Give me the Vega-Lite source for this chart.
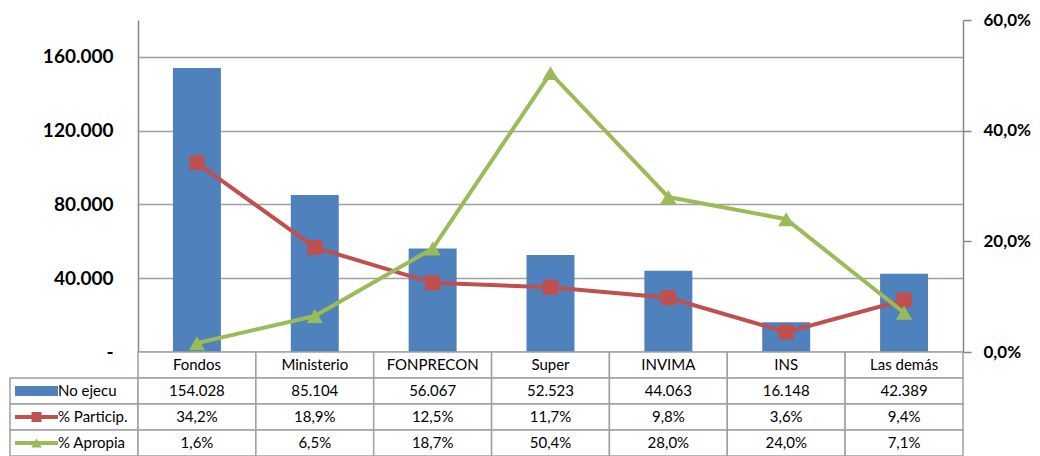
{
  "$schema": "https://vega.github.io/schema/vega-lite/v6.json",
  "padding": {"left": 9, "top": 11, "right": 0, "bottom": 0},
  "columns": 2,
  "spacing": 0,
  "bounds": "flush",
  "datasets": {
    "d": [
      {"cat": "Fondos", "ejec": 154028, "part": 0.342, "apro": 0.016},
      {"cat": "Ministerio", "ejec": 85104, "part": 0.189, "apro": 0.065},
      {"cat": "FONPRECON", "ejec": 56067, "part": 0.125, "apro": 0.187},
      {"cat": "Super", "ejec": 52523, "part": 0.117, "apro": 0.504},
      {"cat": "INVIMA", "ejec": 44063, "part": 0.098, "apro": 0.28},
      {"cat": "INS", "ejec": 16148, "part": 0.036, "apro": 0.24},
      {"cat": "Las demás", "ejec": 42389, "part": 0.094, "apro": 0.071}
    ],
    "h": [
      {"row": "No ejecu"},
      {"row": "% Particip."},
      {"row": "% Apropia"}
    ]
  },
  "concat": [
    {
      "width": 128,
      "height": 332,
      "data": {"values": [{}]},
      "mark": {"type": "text", "text": ""},
      "encoding": {}
    },
    {
      "width": 825,
      "height": 332,
      "data": {"name": "d"},
      "encoding": {
        "x": {
          "field": "cat", "type": "nominal", "sort": null,
          "scale": {"paddingInner": 0.593, "paddingOuter": 0.2965},
          "axis": {"labels": false, "ticks": false, "domain": true, "domainColor": "#868686", "domainWidth": 1.5, "grid": false, "title": null}
        }
      },
      "layer": [
        {
          "mark": {"type": "bar", "color": "#4F81BD"},
          "encoding": {
            "y": {
              "field": "ejec", "type": "quantitative",
              "scale": {"domain": [0, 180000], "nice": false},
              "axis": {
                "orient": "left", "values": [0, 40000, 80000, 120000, 160000],
                "format": ",.0f",
                "labelExpr": "datum.value == 0 ? '-\u00a0\u00a0\u00a0' : datum.label",
                "labelFont": "Lato", "labelFontSize": 19, "labelFontWeight": "bold", "labelColor": "#000000",
                "labelPadding": 25, "ticks": false,
                "domain": true, "domainColor": "#868686", "domainWidth": 1.5,
                "grid": true, "gridColor": "#a0a0a0", "gridWidth": 1.5,
                "title": null
              }
            }
          }
        },
        {
          "layer": [
            {
              "mark": {"type": "line", "color": "#C0504D", "strokeWidth": 4,
                "point": {"shape": "square", "size": 225, "filled": true, "color": "#C0504D", "opacity": 1}},
              "encoding": {
                "y": {
                  "field": "part", "type": "quantitative",
                  "scale": {"domain": [0, 0.6], "nice": false},
                  "axis": {
                    "orient": "right", "values": [0, 0.2, 0.4, 0.6], "format": ".1%",
                    "labelFont": "Lato", "labelFontSize": 17, "labelFontWeight": "bold", "labelColor": "#000000",
                    "labelPadding": 12, "ticks": true, "tickSize": 8, "tickColor": "#868686", "tickWidth": 1.5,
                    "domain": true, "domainColor": "#868686", "domainWidth": 1.5,
                    "grid": false, "title": null
                  }
                }
              }
            },
            {
              "mark": {"type": "line", "color": "#9BBB59", "strokeWidth": 4,
                "point": {"shape": "triangle-up", "size": 260, "filled": true, "color": "#9BBB59", "opacity": 1}},
              "encoding": {
                "y": {
                  "field": "apro", "type": "quantitative",
                  "scale": {"domain": [0, 0.6], "nice": false},
                  "axis": {
                    "orient": "right", "values": [0, 0.2, 0.4, 0.6], "format": ".1%",
                    "labelFont": "Lato", "labelFontSize": 17, "labelFontWeight": "bold", "labelColor": "#000000",
                    "labelPadding": 12, "ticks": true, "tickSize": 8, "tickColor": "#868686", "tickWidth": 1.5,
                    "domain": true, "domainColor": "#868686", "domainWidth": 1.5,
                    "grid": false, "title": null
                  }
                }
              }
            }
          ]
        }
      ],
      "resolve": {"scale": {"y": "independent"}, "axis": {"y": "independent"}}
    },
    {
      "width": 128,
      "height": 104,
      "data": {"name": "h"},
      "encoding": {
        "y": {
          "field": "row", "type": "nominal", "sort": null,
          "scale": {"type": "band", "domain": ["cat", "No ejecu", "% Particip.", "% Apropia"], "paddingInner": 0, "paddingOuter": 0},
          "axis": null
        }
      },
      "layer": [
        {"mark": {"type": "rect", "fill": "#ffffff", "stroke": "#a0a0a0", "strokeWidth": 1.5}},
        {
          "transform": [{"filter": "datum.row == 'No ejecu'"}],
          "mark": {"type": "bar", "color": "#4F81BD", "height": {"band": 0.38}},
          "encoding": {"x": {"datum": "sym", "type": "nominal", "scale": {"domain": ["sym", "txt"], "paddingInner": 0, "paddingOuter": 0.488, "align": 0.119}, "axis": null}}
        },
        {
          "transform": [{"filter": "datum.row == '% Particip.'"}],
          "mark": {"type": "bar", "color": "#C0504D", "height": {"band": 0.15}},
          "encoding": {"x": {"datum": "sym", "type": "nominal", "scale": {"domain": ["sym", "txt"], "paddingInner": 0, "paddingOuter": 0.488, "align": 0.119}, "axis": null}}
        },
        {
          "transform": [{"filter": "datum.row == '% Apropia'"}],
          "mark": {"type": "bar", "color": "#9BBB59", "height": {"band": 0.15}},
          "encoding": {"x": {"datum": "sym", "type": "nominal", "scale": {"domain": ["sym", "txt"], "paddingInner": 0, "paddingOuter": 0.488, "align": 0.119}, "axis": null}}
        },
        {
          "transform": [{"filter": "datum.row == '% Particip.'"}],
          "mark": {"type": "point", "shape": "square", "size": 100, "filled": true, "color": "#C0504D", "opacity": 1},
          "encoding": {"x": {"datum": "sym", "type": "nominal", "scale": {"domain": ["sym", "txt"], "paddingInner": 0, "paddingOuter": 0.488, "align": 0.119}, "axis": null}}
        },
        {
          "transform": [{"filter": "datum.row == '% Apropia'"}],
          "mark": {"type": "point", "shape": "triangle-up", "size": 110, "filled": true, "color": "#9BBB59", "opacity": 1},
          "encoding": {"x": {"datum": "sym", "type": "nominal", "scale": {"domain": ["sym", "txt"], "paddingInner": 0, "paddingOuter": 0.488, "align": 0.119}, "axis": null}}
        },
        {
          "mark": {"type": "text", "align": "left", "baseline": "middle", "font": "Lato", "fontSize": 15, "color": "#000000"},
          "encoding": {
            "x": {"datum": "txt", "type": "nominal", "bandPosition": 0, "scale": {"domain": ["sym", "txt"], "paddingInner": 0, "paddingOuter": 0.488, "align": 0.119}, "axis": null},
            "text": {"field": "row"}
          }
        }
      ]
    },
    {
      "width": 825,
      "height": 104,
      "data": {"name": "d"},
      "encoding": {
        "x": {
          "field": "cat", "type": "nominal", "sort": null,
          "scale": {"paddingInner": 0, "paddingOuter": 0},
          "axis": null
        }
      },
      "layer": [
        {
          "encoding": {
            "y": {"datum": "cat", "type": "nominal",
              "scale": {"type": "band", "domain": ["cat", "No ejecu", "% Particip.", "% Apropia"], "paddingInner": 0, "paddingOuter": 0},
              "axis": null}
          },
          "layer": [
            {"mark": {"type": "rect", "fill": "#ffffff", "stroke": "#a0a0a0", "strokeWidth": 1.5}},
            {"mark": {"type": "text", "baseline": "middle", "font": "Lato", "fontSize": 15, "color": "#000000"},
             "encoding": {"text": {"field": "cat"}}}
          ]
        },
        {
          "encoding": {
            "y": {"datum": "No ejecu", "type": "nominal",
              "scale": {"type": "band", "domain": ["cat", "No ejecu", "% Particip.", "% Apropia"], "paddingInner": 0, "paddingOuter": 0},
              "axis": null}
          },
          "layer": [
            {"mark": {"type": "rect", "fill": "#ffffff", "stroke": "#a0a0a0", "strokeWidth": 1.5}},
            {"mark": {"type": "text", "baseline": "middle", "font": "Lato", "fontSize": 15, "color": "#000000"},
             "encoding": {"text": {"field": "ejec", "type": "quantitative", "format": ",.0f"}}}
          ]
        },
        {
          "encoding": {
            "y": {"datum": "% Particip.", "type": "nominal",
              "scale": {"type": "band", "domain": ["cat", "No ejecu", "% Particip.", "% Apropia"], "paddingInner": 0, "paddingOuter": 0},
              "axis": null}
          },
          "layer": [
            {"mark": {"type": "rect", "fill": "#ffffff", "stroke": "#a0a0a0", "strokeWidth": 1.5}},
            {"mark": {"type": "text", "baseline": "middle", "font": "Lato", "fontSize": 15, "color": "#000000"},
             "encoding": {"text": {"field": "part", "type": "quantitative", "format": ".1%"}}}
          ]
        },
        {
          "encoding": {
            "y": {"datum": "% Apropia", "type": "nominal",
              "scale": {"type": "band", "domain": ["cat", "No ejecu", "% Particip.", "% Apropia"], "paddingInner": 0, "paddingOuter": 0},
              "axis": null}
          },
          "layer": [
            {"mark": {"type": "rect", "fill": "#ffffff", "stroke": "#a0a0a0", "strokeWidth": 1.5}},
            {"mark": {"type": "text", "baseline": "middle", "font": "Lato", "fontSize": 15, "color": "#000000"},
             "encoding": {"text": {"field": "apro", "type": "quantitative", "format": ".1%"}}}
          ]
        }
      ]
    }
  ],
  "config": {
    "locale": {"number": {"decimal": ",", "thousands": ".", "grouping": [3], "currency": ["$", ""]}},
    "view": {"stroke": null},
    "font": "Lato"
  }
}
